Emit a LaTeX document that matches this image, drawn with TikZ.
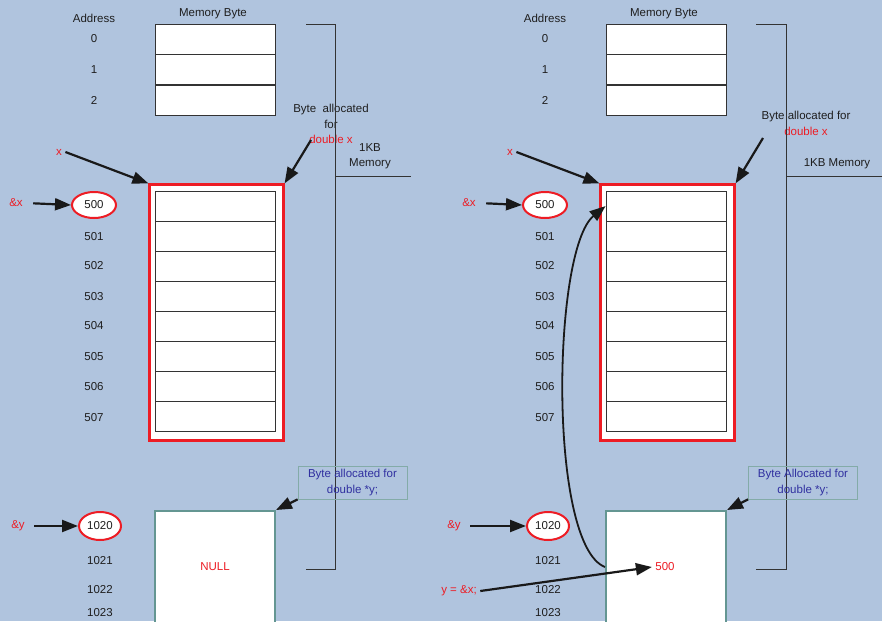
\documentclass[tikz,border=0pt]{standalone}
\usepackage{fontspec}
\setmainfont{Liberation Sans}
\usetikzlibrary{arrows.meta, shapes.geometric, positioning}
\definecolor{memback}{RGB}{176,196,222}
\definecolor{memred}{RGB}{237,28,36}
\definecolor{memteal}{RGB}{100,150,146}
\definecolor{memblue}{RGB}{48,48,160}
\definecolor{memtext}{RGB}{30,30,30}

\begin{document}
\begin{tikzpicture}[x=1pt, y=-1pt,
  every node/.style={font=\fontsize{11.5}{15.5}\selectfont, text=memtext},
  cell/.style={draw=black!80, fill=white, line width=0.9pt, minimum width=120pt, minimum height=30.1pt, inner sep=0pt},
  redbox/.style={draw=memred, fill=white, line width=2.2pt, minimum width=134pt, minimum height=256pt, inner sep=0pt},
  ybox/.style={draw=memteal, fill=white, line width=2pt, minimum width=120pt, minimum height=112pt, inner sep=0pt},
  addr/.style={ellipse, draw=memred, fill=white, line width=2pt, minimum width=44pt, minimum height=26pt, inner sep=0pt},
  note/.style={draw=memteal!80, line width=0.8pt, text=memblue, align=center, minimum width=109pt, minimum height=33pt, inner sep=1pt},
  ptr/.style={-{Triangle[length=16pt, width=12pt]}, line width=2.2pt, black!90},
  rtxt/.style={text=memred},
  bracket/.style={draw=black!80, line width=0.9pt}
]
  \clip (0,0) rectangle (882,621);
  \fill[memback] (0,0) rectangle (882,621);

  % left panel
  \node (Laddr) at (94,18) {Address};
  \node (Lmem) at (213,14) {Memory Byte};
  \foreach \a/\y in {0/39,1/69.5,2/100} {
    \node[cell] (Lc\a) at (215,\y) {};
    \node (La\a) at (94,\y) {\a};
  }
  \node[redbox] (Lxbox) at (216.5,312.5) {};
  \foreach \i in {0,...,7}
    \node[cell] (Lx\i) at (215,{206.05+30.1*\i}) {};
  \foreach \i/\y in {1/237,2/266,3/297,4/326,5/357,6/387,7/418}
    \node (La50\i) at (94,\y) {50\i};
  \node[addr] (La500) at (94,205) {500};
  \node[rtxt] (Lx) at (59,152) {x};
  \draw[ptr] (Lx.east) -- (Lxbox.north west);
  \node[rtxt] (Lamp) at (16,203) {\&x};
  \draw[ptr, shorten <=7pt] (Lamp.east) -- (La500.west);
  \node[align=center] (Lxnote) at (331,124) {Byte\ \ allocated\\for\\\textcolor{memred}{double x}};
  \coordinate (Lxtail) at (311,140);
  \draw[ptr] (Lxtail) -- (Lxbox.north east);
  \draw[bracket] (306,24) -| (335,569) -- (306,569);
  \draw[bracket] (335,176) -- (411,176);
  \node[align=center] (Lkb) at (370,156) {1KB\\Memory};
  \node[ybox, text=memred] (Lybox) at (215,567) {NULL};
  \node[note] (Lynote) at (352.5,482.5) {Byte allocated for\\double *y;};
  \draw[ptr] (Lynote.south west) -- (Lybox.north east);
  \node[rtxt] (Lampy) at (18,526) {\&y};
  \node[addr, minimum width=42pt, minimum height=28pt] (La1020) at (100,526) {1020};
  \draw[ptr, shorten <=6pt] (Lampy.east) -- (La1020.west);
  \foreach \i/\y in {1/561,2/590,3/613}
    \node (La102\i) at (100,\y) {102\i};

  % right panel
  \node (Raddr) at (545,18) {Address};
  \node (Rmem) at (664,14) {Memory Byte};
  \foreach \a/\y in {0/39,1/69.5,2/100} {
    \node[cell] (Rc\a) at (666,\y) {};
    \node (Ra\a) at (545,\y) {\a};
  }
  \node[redbox] (Rxbox) at (667.5,312.5) {};
  \foreach \i in {0,...,7}
    \node[cell] (Rx\i) at (666,{206.05+30.1*\i}) {};
  \foreach \i/\y in {1/237,2/266,3/297,4/326,5/357,6/387,7/418}
    \node (Ra50\i) at (545,\y) {50\i};
  \node[addr] (Ra500) at (545,205) {500};
  \node[rtxt] (Rx) at (510,152) {x};
  \draw[ptr] (Rx.east) -- (Rxbox.north west);
  \node[rtxt] (Ramp) at (469,203) {\&x};
  \draw[ptr, shorten <=7pt] (Ramp.east) -- (Ra500.west);
  \node[align=center] (Rxnote) at (806,123.5) {Byte allocated for\\\textcolor{memred}{double x}};
  \coordinate (Rxtail) at (763,138);
  \draw[ptr] (Rxtail) -- (Rxbox.north east);
  \draw[bracket] (756,24) -| (786,569) -- (756,569);
  \draw[bracket] (786,176) -- (882,176);
  \node (Rkb) at (837,164) {1KB Memory};
  \node[ybox] (Rybox) at (666,567) {};
  \node[rtxt] (Rval) at (665,567) {500};
  \node[note] (Rynote) at (803,482.5) {Byte Allocated for\\double *y;};
  \draw[ptr] (Rynote.south west) -- (Rybox.north east);
  \node[rtxt] (Rampy) at (454,526) {\&y};
  \node[addr, minimum width=42pt, minimum height=28pt] (Ra1020) at (548,526) {1020};
  \draw[ptr, shorten <=6pt] (Rampy.east) -- (Ra1020.west);
  \foreach \i/\y in {1/561,2/590,3/613}
    \node (Ra102\i) at (548,\y) {102\i};
  \node[rtxt] (Rassign) at (459,591) {y = \&x;};
  \draw[ptr] (Rassign.east) -- (Rval.west);
  \draw[ptr, line width=1.8pt] (Rybox.west) .. controls (548,545) and (552,250) .. (Rx0.west);
\end{tikzpicture}
\end{document}
